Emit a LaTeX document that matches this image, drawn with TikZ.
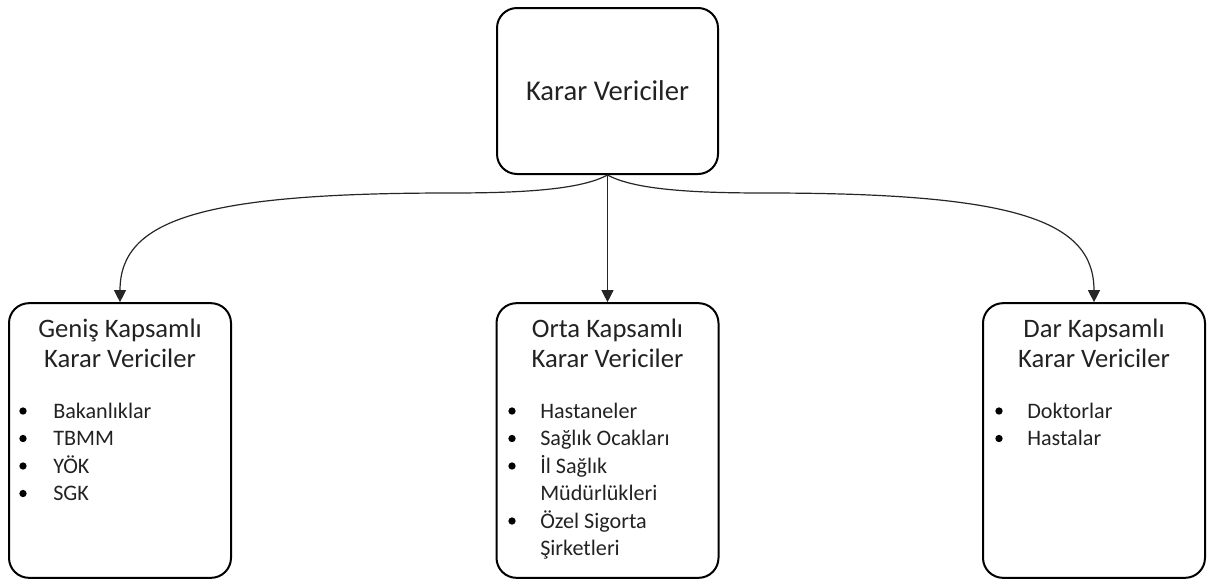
\documentclass[tikz,border=0pt]{standalone}
\usepackage{fontspec}
\setmainfont{Carlito}
\usetikzlibrary{arrows.meta}
\definecolor{txt}{HTML}{222222}
\begin{document}
\begin{tikzpicture}[x=0.75pt,y=-0.75pt,
  box/.style={draw=black,line width=1.5pt,rounded corners=15pt,inner sep=0pt,
    minimum width=166.5pt,minimum height=206pt},
  topbox/.style={draw=black,line width=1.5pt,rounded corners=15pt,inner sep=0pt,
    minimum width=165.75pt,minimum height=124.5pt,text=txt,
    font=\fontsize{21.5}{26}\selectfont},
  head/.style={anchor=base,inner sep=0pt,text=txt,font=\fontsize{20}{24}\selectfont},
  bul/.style={circle,fill=black,inner sep=0pt,minimum size=5.5pt},
  item/.style={anchor=base west,inner sep=0pt,text=txt,font=\fontsize{16.6}{20}\selectfont},
  conn/.style={draw=black!85,line width=0.9pt,-{Triangle[length=9pt,width=9pt]}}]
\useasboundingbox (0,0) rectangle (1207,579);

\node[topbox] (top) at (607.5,91) {Karar Vericiler};
\node[box] (left) at (120,440.5) {};
\node[box] (mid) at (607.5,440.5) {};
\node[box] (right) at (1094,440.5) {};

% headings
\node[head] (lh1) at (120,337) {Geniş Kapsamlı};
\node[head] (lh2) at (120,367) {Karar Vericiler};
\node[head] (mh1) at (607.5,337) {Orta Kapsamlı};
\node[head] (mh2) at (607.5,367) {Karar Vericiler};
\node[head] (rh1) at (1094,337) {Dar Kapsamlı};
\node[head] (rh2) at (1094,367) {Karar Vericiler};

% left items
\node[bul] (lb1) at (23,411) {};
\node[item] (li1) at (53,418) {Bakanlıklar};
\node[bul] (lb2) at (23,438.5) {};
\node[item] (li2) at (53,445.5) {TBMM};
\node[bul] (lb3) at (23,466) {};
\node[item] (li3) at (53,473) {YÖK};
\node[bul] (lb4) at (23,493.5) {};
\node[item] (li4) at (53,500.5) {SGK};

% middle items
\node[bul] (mb1) at (512,411) {};
\node[item] (mi1) at (540,418) {Hastaneler};
\node[bul] (mb2) at (512,438.5) {};
\node[item] (mi2) at (540,445.5) {Sağlık Ocakları};
\node[bul] (mb3) at (512,466) {};
\node[item] (mi3) at (540,473) {İl Sağlık};
\node[item] (mi4) at (540,500.5) {Müdürlükleri};
\node[bul] (mb5) at (512,521) {};
\node[item] (mi5) at (540,528) {Özel Sigorta};
\node[item] (mi6) at (540,555.5) {Şirketleri};

% right items
\node[bul] (rb1) at (999,411) {};
\node[item] (ri1) at (1027,418) {Doktorlar};
\node[bul] (rb2) at (999,438.5) {};
\node[item] (ri2) at (1027,445.5) {Hastalar};

% connectors
\draw[conn] (top.south) -- (mid.north);
\draw[conn] (top.south) .. controls (580,190) and (520,193) .. (450,193)
  .. controls (200,193) and (120,220) .. (left.north);
\draw[conn] (top.south) .. controls (635,190) and (695,193) .. (765,193)
  .. controls (1015,193) and (1094,220) .. (right.north);
\end{tikzpicture}
\end{document}
